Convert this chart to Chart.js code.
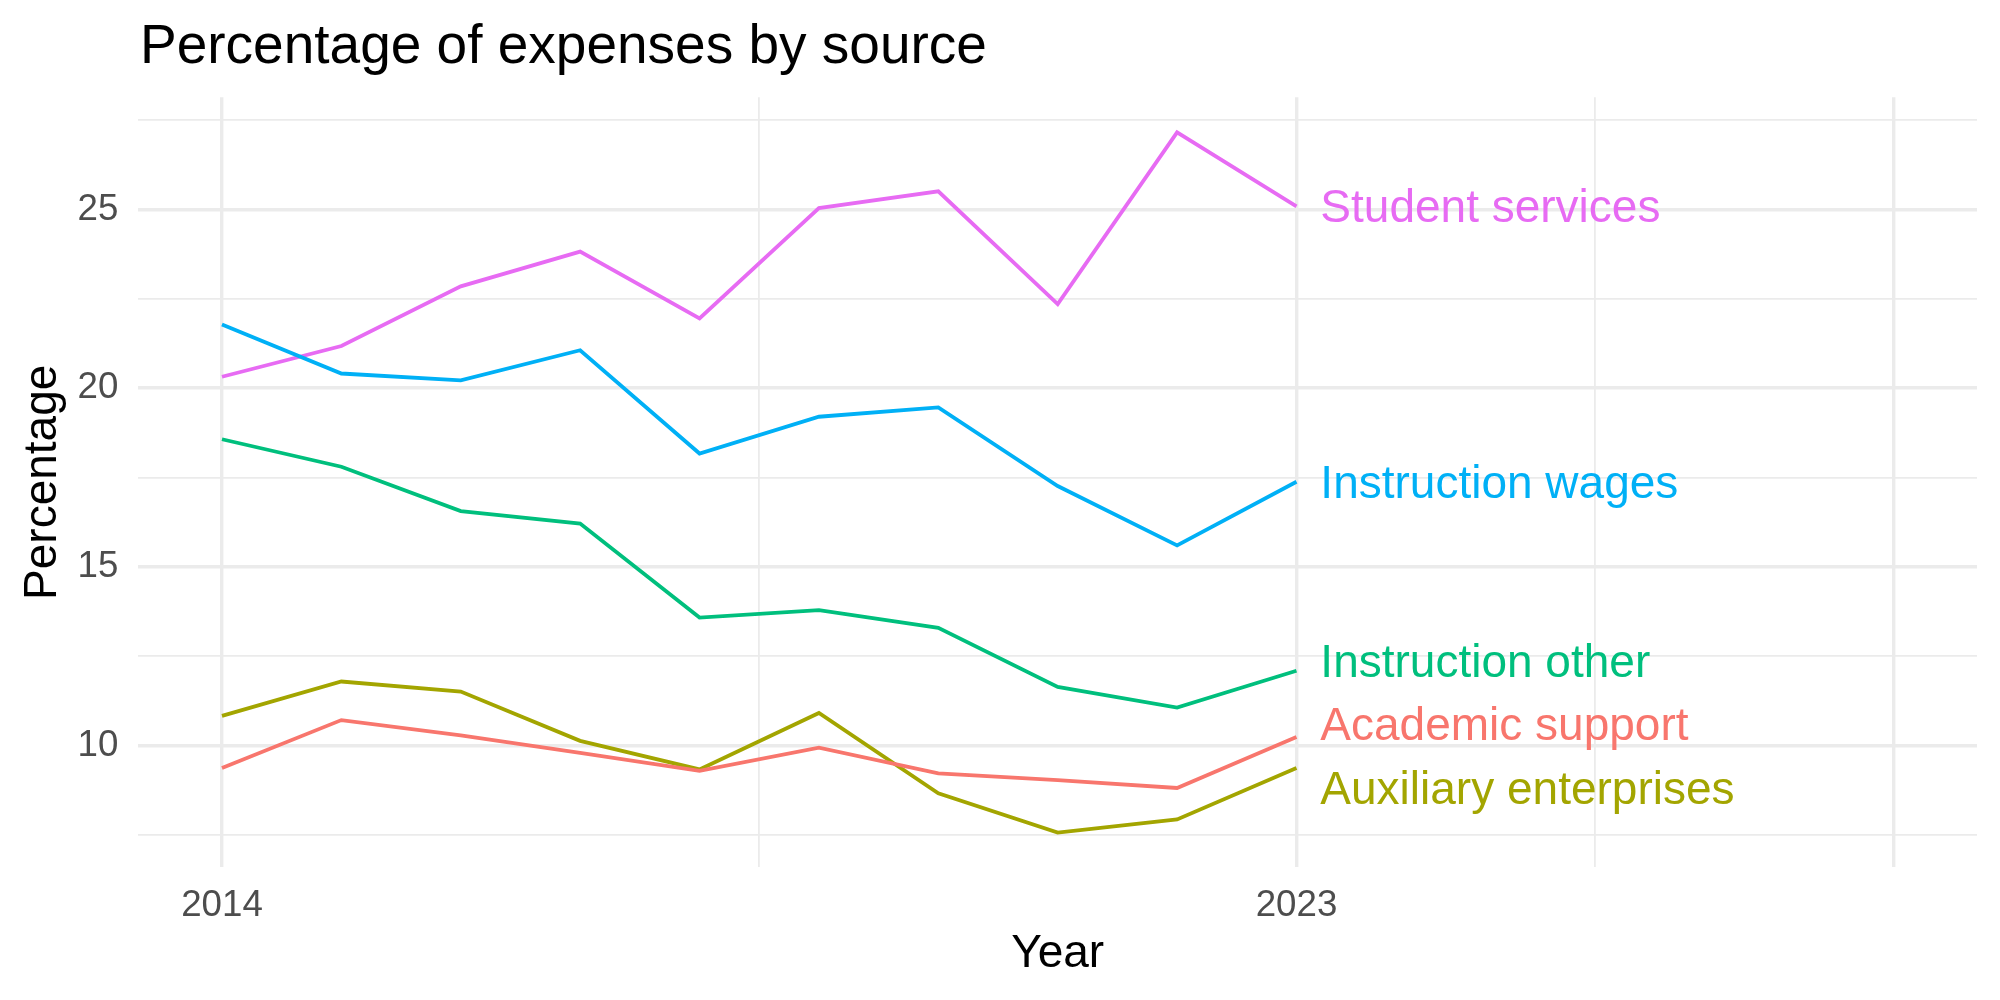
<!DOCTYPE html>
<html>
<head>
<meta charset="utf-8">
<script src="https://cdn.jsdelivr.net/npm/chart.js@4.4.1/dist/chart.umd.min.js"></script>
<style>
  html, body { margin: 0; padding: 0; background: #ffffff; }
</style>
</head>
<body>
<canvas id="myChart" width="2000" height="1000"></canvas>
<script>
// data
var years = [2014, 2015, 2016, 2017, 2018, 2019, 2020, 2021, 2022, 2023];
var academicSupport = [9.37, 10.71, 10.28, 9.79, 9.29, 9.94, 9.22, 9.03, 8.81, 10.24];
var auxiliaryEnterprises = [10.83, 11.79, 11.51, 10.13, 9.33, 10.91, 8.66, 7.56, 7.93, 9.37];
var instructionOther = [18.57, 17.80, 16.56, 16.21, 13.58, 13.79, 13.29, 11.64, 11.06, 12.09];
var instructionWages = [21.78, 20.41, 20.22, 21.06, 18.17, 19.20, 19.46, 17.26, 15.60, 17.38];
var studentServices = [20.32, 21.18, 22.85, 23.82, 21.95, 25.04, 25.51, 22.35, 27.16, 25.09];

var seriesNames = ['Academic support', 'Auxiliary enterprises', 'Instruction other', 'Instruction wages', 'Student services'];
var seriesValues = [academicSupport, auxiliaryEnterprises, instructionOther, instructionWages, studentServices];
var seriesColors = ['#F8766D', '#A3A500', '#00BF7D', '#00B0F6', '#E76BF3'];
// end labels (repelled a little so they don't overlap)
var labelYear = 2023.2;
var labelValues = [10.61, 8.83, 12.37, 17.40, 25.10];

var xTicks = [2014, 2018.5, 2023, 2025.5, 2028];
var xLabelled = [2014, 2023];
var yTicks = [7.5, 10, 12.5, 15, 17.5, 20, 22.5, 25, 27.5];
var yLabelled = [10, 15, 20, 25];

var FONT = '"Liberation Sans", Arial, Helvetica, sans-serif';
var GRID = '#EBEBEB';

function isMajor(list, v) {
    return list.indexOf(v) !== -1;
}

var datasets = seriesNames.map(function (name, i) {
    return {
        label: name,
        data: years.map(function (y, j) { return { x: y, y: seriesValues[i][j] }; }),
        borderColor: seriesColors[i],
        backgroundColor: seriesColors[i],
        borderWidth: 3.8,
        pointRadius: 0,
        tension: 0,
        fill: false
    };
});

// title in the top left, over the panel
var titlePlugin = {
    id: 'plotTitle',
    afterDraw: function (chart) {
        var ctx = chart.ctx;
        ctx.save();
        ctx.font = '55px ' + FONT;
        ctx.fillStyle = '#000000';
        ctx.textAlign = 'left';
        ctx.textBaseline = 'alphabetic';
        ctx.fillText('Percentage of expenses by source', 140, 63);
        ctx.restore();
    }
};

// direct labels at the end of each line
var endLabels = {
    id: 'endLabels',
    afterDatasetsDraw: function (chart) {
        var ctx = chart.ctx;
        var xs = chart.scales.x, ys = chart.scales.y;
        ctx.save();
        ctx.font = '46px ' + FONT;
        ctx.textAlign = 'left';
        ctx.textBaseline = 'alphabetic';
        seriesNames.forEach(function (name, i) {
            ctx.fillStyle = seriesColors[i];
            ctx.fillText(name, xs.getPixelForValue(labelYear), ys.getPixelForValue(labelValues[i]) + 16.5);
        });
        ctx.restore();
    }
};

var ctx = document.getElementById('myChart').getContext('2d');
var chart = new Chart(ctx, {
    type: 'line',
    data: { datasets: datasets },
    options: {
        responsive: false,
        devicePixelRatio: 1,
        animation: false,
        layout: { padding: { top: 97.3, right: 23, bottom: 0, left: 0 } },
        plugins: {
            legend: { display: false },
            tooltip: { enabled: false },
            title: { display: false }
        },
        scales: {
            x: {
                type: 'linear',
                min: 2013.3,
                max: 2028.7,
                afterFit: function (scale) { scale.height = 132.7; },
                afterBuildTicks: function (scale) {
                    scale.ticks = xTicks.map(function (v) { return { value: v }; });
                },
                ticks: {
                    autoSkip: false,
                    maxRotation: 0,
                    padding: 17,
                    color: '#4D4D4D',
                    font: { family: FONT, size: 36.7 },
                    callback: function (v) { return isMajor(xLabelled, v) ? String(v) : ''; }
                },
                grid: {
                    drawTicks: false,
                    color: GRID,
                    lineWidth: function (c) {
                        return (c.tick && (c.tick.value === 2014 || c.tick.value === 2023 || c.tick.value === 2028)) ? 3.4 : 1.8;
                    }
                },
                border: { display: false },
                title: {
                    display: true,
                    text: 'Year',
                    color: '#000000',
                    font: { family: FONT, size: 46 },
                    padding: { top: 0, bottom: 18 }
                }
            },
            y: {
                type: 'linear',
                min: 6.59,
                max: 28.14,
                afterFit: function (scale) { scale.width = 138.4; },
                afterBuildTicks: function (scale) {
                    scale.ticks = yTicks.map(function (v) { return { value: v }; });
                },
                ticks: {
                    autoSkip: false,
                    padding: 20,
                    color: '#4D4D4D',
                    font: { family: FONT, size: 36.7 },
                    callback: function (v) { return isMajor(yLabelled, v) ? String(v) : ''; }
                },
                grid: {
                    drawTicks: false,
                    color: GRID,
                    lineWidth: function (c) {
                        return (c.tick && isMajor(yLabelled, c.tick.value)) ? 3.4 : 1.8;
                    }
                },
                border: { display: false },
                title: {
                    display: true,
                    text: 'Percentage',
                    color: '#000000',
                    font: { family: FONT, size: 46 },
                    padding: { top: 15.5, bottom: 0 }
                }
            }
        }
    },
    plugins: [titlePlugin, endLabels]
});
</script>
</body>
</html>
